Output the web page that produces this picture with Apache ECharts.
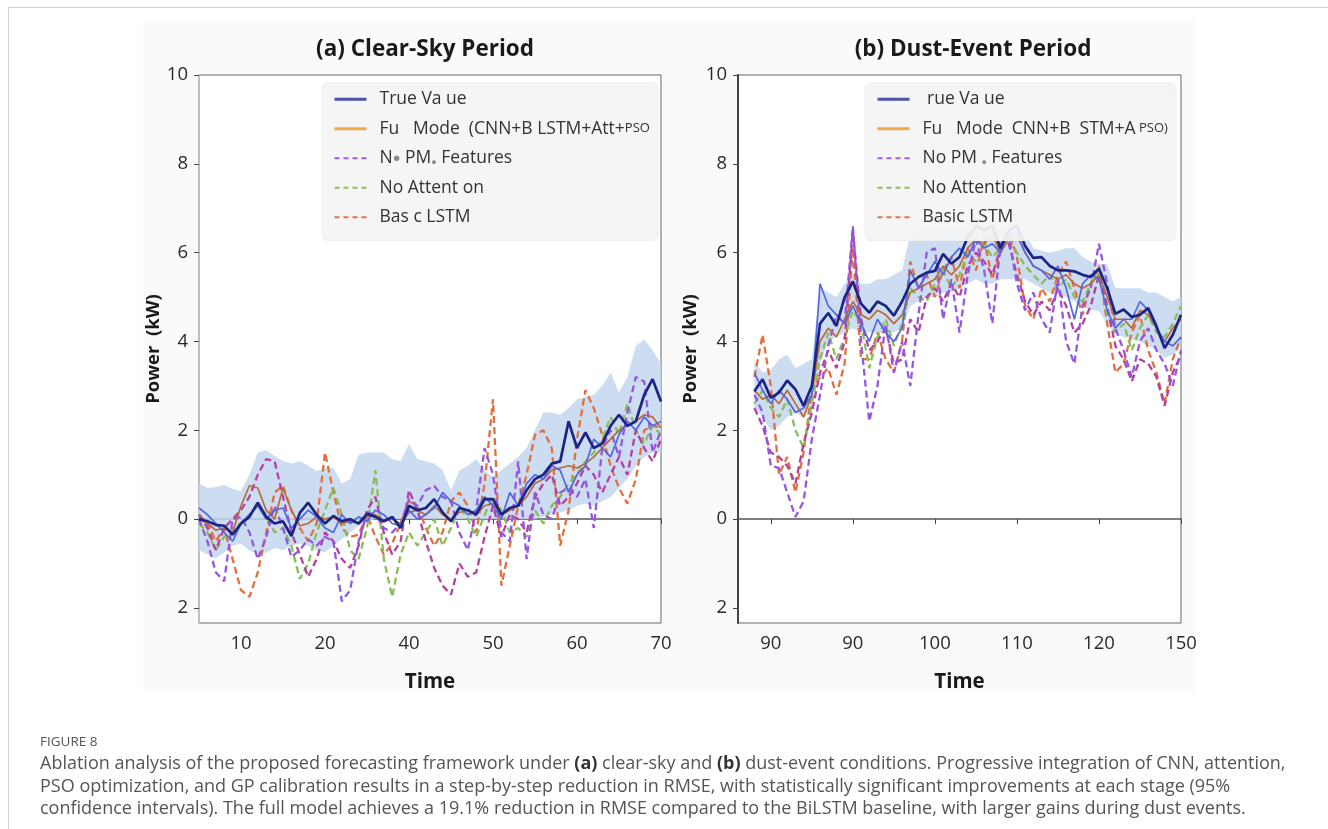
<!DOCTYPE html>
<html>
<head>
<meta charset="utf-8">
<script src="https://cdn.jsdelivr.net/npm/echarts@6/dist/echarts.min.js"></script>
<style>html,body{margin:0;padding:0;background:#fff;}#c{width:1328px;height:829px;}</style>
</head>
<body>
<div id="c"></div>
<script>
// ---------- data ----------
const timeA = [5,6,7,8,9,10,11,12,13,14,15,16,17,18,19,20,21,22,23,24,25,26,27,28,29,30,31,32,33,34,35,36,37,38,39,40,41,42,43,44,45,46,47,48,49,50,51,52,53,54,55,56,57,58,59,60];
const xTickValsA = [10,20,30,40,50,60];
const xTickLabelsA = ['10','20','40','50','60','70'];
const trueA = [0.0,-0.05,-0.13,-0.15,-0.35,-0.1,0.05,0.37,0.05,-0.1,
  -0.05,-0.38,0.14,0.37,0.1,-0.1,0.07,-0.05,0.0,-0.1,
  0.12,0.05,-0.05,0.05,-0.2,0.3,0.2,0.25,0.45,0.15,
  -0.05,0.25,0.2,0.1,0.45,0.45,0.1,0.25,0.3,0.65,
  0.9,1.0,1.25,1.3,2.2,1.6,1.95,1.6,1.7,2.1,
  2.35,2.1,2.2,2.8,3.15,2.65];
const fullA = [0.0,-0.1,-0.25,-0.2,-0.3,0.3,0.75,0.7,0.2,0.0,
  0.7,0.2,-0.15,-0.1,0.05,0.0,0.05,-0.1,-0.05,-0.1,
  0.05,0.1,-0.05,0.0,-0.1,0.15,0.2,0.1,0.3,0.1,
  0.0,0.15,0.2,0.1,0.3,0.35,0.1,0.2,0.3,0.5,
  0.8,0.9,1.1,1.15,1.2,1.15,1.25,1.4,1.6,1.8,
  2.0,2.1,2.2,2.35,2.3,2.05];
const blueA = [0.25,0.1,-0.1,-0.3,-0.5,-0.1,0.1,0.3,0.0,0.2,
  0.25,-0.2,0.0,0.2,0.05,-0.2,-0.3,0.1,-0.1,0.05,
  -0.05,0.2,0.1,-0.1,-0.15,0.2,0.0,0.1,0.25,0.6,
  0.4,0.3,0.1,0.2,0.5,0.3,0.0,0.6,0.3,0.8,
  1.0,0.9,1.2,1.1,0.6,1.0,1.2,1.8,1.6,1.4,
  1.9,2.2,2.0,2.3,2.1,2.2];
const basicA = [0.1,-0.1,-0.5,-0.2,-0.9,-1.6,-1.75,-1.2,-0.3,0.6,
  0.75,0.2,-0.2,-0.5,-0.1,1.5,0.6,-0.2,-0.4,-0.35,
  0.1,-0.4,-0.8,-0.55,-0.1,0.4,0.3,-0.2,-0.6,-0.3,
  0.4,0.6,0.3,-0.3,0.8,2.7,-1.5,-0.6,0.3,1.0,
  1.9,2.0,1.6,-0.6,0.2,1.8,2.9,2.5,1.9,1.2,
  0.7,0.35,0.9,2.0,2.1,2.05];
const pmA = [0.0,-0.5,-1.2,-1.4,0.0,0.05,-0.3,-0.9,-0.4,0.3,
  -0.2,-0.85,-0.7,-0.45,-0.6,-0.4,-0.5,-1.85,-1.6,-0.5,
  0.15,0.1,-0.2,-0.3,-0.1,0.45,0.3,0.65,0.75,0.5,
  0.4,-0.3,-0.7,0.2,1.6,1.0,-0.3,-0.5,1.3,-0.9,
  0.6,0.1,0.0,0.6,0.7,0.5,0.9,-0.2,1.6,2.0,
  1.4,2.4,3.2,3.1,1.5,2.0];
const attA = [-0.1,-0.3,-0.7,-0.4,-0.2,-0.1,0.1,0.3,0.1,-0.3,
  -0.2,-0.6,-1.35,-1.0,-0.3,0.2,0.7,0.1,-0.7,-0.9,
  -0.2,1.1,-0.9,-1.75,-0.8,-0.3,-0.6,-0.3,0.0,-0.6,
  -0.2,0.3,0.0,-0.4,0.1,0.5,0.2,-0.3,-0.2,-0.4,
  0.2,-0.1,0.3,0.5,0.8,1.0,1.3,1.5,1.8,2.3,
  1.9,2.6,2.0,1.7,2.1,1.9];
const magA = [0.1,-0.2,-0.7,-0.2,0.0,0.2,0.5,1.0,1.35,1.3,
  0.5,-0.3,-0.8,-1.3,-0.9,-0.3,-0.5,-0.9,-1.1,-0.6,
  0.2,0.5,-0.3,-0.8,-0.5,0.65,0.2,-0.5,-1.1,-1.5,
  -1.7,-1.0,-1.3,-1.2,-0.4,0.3,-0.4,0.1,0.0,-0.3,
  0.5,0.8,1.0,0.3,0.5,0.8,1.2,1.0,0.6,1.0,
  1.4,1.0,2.0,1.6,1.3,1.8];
const upperA = [0.8,0.7,0.72,0.77,0.68,0.63,1.0,1.5,1.55,1.42,
  1.3,1.25,1.3,1.2,1.08,1.15,1.15,0.8,0.9,1.45,
  1.5,1.5,1.5,1.35,1.3,1.69,1.35,1.3,1.25,1.1,
  0.65,1.1,1.2,1.35,1.1,0.95,1.1,1.25,1.4,1.6,
  2.0,2.4,2.4,2.35,2.5,2.7,2.75,2.8,3.0,3.3,
  2.85,3.2,3.9,4.05,3.8,3.5];
const lowerA = [-0.7,-0.8,-0.88,-0.75,-0.6,-0.55,-0.7,-0.8,-0.75,-0.65,
  -0.7,-0.6,-0.55,-0.6,-0.7,-0.75,-0.6,-0.45,-0.3,-0.15,
  -0.05,0.0,0.0,0.0,0.0,0.0,0.0,0.0,0.0,0.0,
  0.0,0.0,0.0,0.0,0.0,0.0,0.0,0.0,0.0,0.0,
  0.0,0.05,0.1,0.15,0.2,0.3,0.35,0.3,0.4,0.5,
  0.7,0.9,1.2,1.4,1.5,1.5];

const timeB = [88,89,90,91,92,93,94,95,96,97,98,99,100,101,102,103,104,105,106,107,108,109,110,111,112,113,114,115,116,117,118,119,120,121,122,123,124,125,126,127,128,129,130,131,132,133,134,135,136,137,138,139,140];
const xTickValsB = [90,100,110,120,130,140];
const xTickLabelsB = ['90','90','100','110','120','150'];
const trueB = [2.88,3.15,2.73,2.85,3.12,2.92,2.55,3.0,4.4,4.64,
  4.35,5.0,5.35,4.85,4.65,4.9,4.8,4.58,4.9,5.3,
  5.45,5.55,5.59,5.97,5.75,5.9,6.35,6.6,6.5,6.6,
  6.1,6.5,6.6,6.15,5.88,5.9,5.7,5.6,5.6,5.58,
  5.5,5.45,5.64,5.2,4.62,4.72,4.55,4.6,4.75,4.35,
  3.85,4.15,4.6];
const fullB = [2.9,2.7,2.8,2.6,2.9,2.6,2.3,2.8,4.0,4.3,
  4.1,4.5,4.9,4.6,4.5,4.7,4.6,4.4,4.6,5.1,
  5.2,5.3,5.4,5.7,5.5,5.7,6.1,6.3,6.2,6.4,
  6.0,6.3,6.4,6.0,5.7,5.6,5.5,5.4,5.5,5.3,
  5.2,5.3,5.5,5.0,4.5,4.5,4.3,4.7,4.6,4.3,
  4.0,4.3,4.5];
const blueB = [3.3,2.9,2.6,2.9,2.7,2.4,2.5,2.8,5.3,4.8,
  4.6,4.4,4.8,4.4,4.0,4.5,4.2,4.0,4.3,5.6,
  5.2,5.5,5.8,5.5,5.9,6.1,5.9,6.3,6.1,6.2,
  6.0,6.5,6.4,6.0,5.7,5.6,5.4,5.7,5.2,4.5,
  5.3,5.5,5.4,4.7,4.3,4.5,4.5,4.9,4.7,4.3,
  4.0,3.9,4.1];
const basicB = [3.2,4.15,3.0,1.0,1.4,0.6,1.5,2.9,3.2,3.4,
  2.8,3.5,6.1,3.6,3.6,4.2,3.6,3.3,4.0,5.8,
  5.2,5.5,5.0,5.6,5.9,5.2,6.1,5.6,6.3,5.4,
  6.0,6.5,5.9,4.8,4.5,5.2,4.9,5.5,5.8,5.2,
  4.6,5.3,5.7,4.4,3.3,3.5,4.2,4.6,3.8,3.3,
  2.6,3.6,4.1];
const pmB = [2.8,2.4,1.2,1.15,0.6,0.05,0.4,1.8,2.8,3.9,
  4.6,4.4,6.6,4.0,2.2,3.0,4.4,3.3,4.0,3.0,
  4.6,6.0,6.1,4.5,5.4,4.2,5.5,6.3,5.6,4.4,
  6.2,6.4,5.3,4.7,5.1,4.5,4.2,5.4,4.0,3.5,
  4.8,5.2,6.2,5.3,4.3,3.8,3.2,4.0,4.3,3.8,
  3.5,3.0,3.8];
const attB = [2.6,2.9,2.5,2.3,2.7,2.0,1.6,2.6,3.6,4.2,
  3.6,4.1,4.7,4.4,3.4,4.1,4.5,3.9,4.4,5.2,
  5.0,4.9,5.3,5.6,5.2,5.5,6.0,5.8,6.2,5.9,
  6.1,6.3,6.0,5.7,5.5,5.3,5.5,5.2,5.4,5.0,
  4.9,5.3,5.6,4.6,4.2,4.4,3.8,4.3,4.6,4.2,
  4.1,4.4,4.8];
const magB = [2.5,2.1,1.5,1.4,1.2,0.8,1.7,2.4,3.3,3.8,
  3.4,4.0,6.5,4.5,3.8,4.0,4.3,3.5,3.6,4.5,
  4.2,5.0,5.2,4.9,5.3,5.0,5.7,6.0,5.8,5.5,
  6.1,6.2,5.5,4.9,4.6,4.9,4.7,5.2,4.8,4.2,
  4.4,4.8,5.5,4.8,3.9,3.6,3.1,3.6,3.5,3.2,
  2.55,3.3,3.7];
const upperB = [3.55,3.3,3.35,3.6,3.7,3.4,3.5,3.6,5.2,5.1,
  5.0,5.3,5.5,5.3,5.3,5.4,5.4,5.5,5.6,6.4,
  6.5,6.5,6.5,6.5,6.5,6.5,6.5,6.5,6.5,6.5,
  6.5,6.5,6.5,6.5,6.1,6.04,6.0,6.04,6.1,6.1,
  5.9,5.8,5.75,5.74,5.2,5.2,5.2,5.2,5.1,5.1,
  5.0,4.9,5.0];
const lowerB = [2.5,2.3,2.0,2.1,2.3,2.4,2.27,2.5,3.5,4.0,
  4.1,4.2,4.3,4.2,4.2,4.2,4.2,4.2,4.3,4.8,
  4.9,5.0,5.0,5.1,5.1,5.2,5.3,5.4,5.3,5.3,
  5.4,5.4,5.4,5.4,5.3,5.2,5.1,5.07,5.0,4.9,
  4.8,4.7,4.68,4.4,4.17,4.1,4.05,4.0,3.9,3.8,
  3.63,3.7,3.85];

const yTickVals = [-2,0,2,4,6,8,10];
const yTickLabels = ['2','0','2','4','6','8','10'];

const seriesNames = ['True Value','Full Model','No PM Features','No Attention','Basic LSTM'];
const legendLabelsA = ['True Va ue','Fu   Mode  (CNN+B LSTM+Att+{p|PSO}','N{d|\u25CF} PM{s|\u25CF} Features','No Attent on','Bas c LSTM'];
const legendLabelsB = [' rue Va ue','Fu   Mode  CNN+B  STM+A{p| PSO)}','No PM {s|\u25CF} Features','No Attention','Basic LSTM'];

// ---------- chart ----------
const FONT = 'Open Sans';
const chart = echarts.init(document.getElementById('c'), null, {renderer:'canvas'});

function pairs(x, y){ return x.map((t,i)=>[t,y[i]]); }
function line(name, x, y, g, color, width, dashed, z){
  return {type:'line', name, xAxisIndex:g, yAxisIndex:g, data:pairs(x,y), symbol:'none',
    lineStyle:{color, width, type: dashed ? [7,4] : 'solid'}, itemStyle:{color}, z, silent:true, animation:false};
}
function band(key, x, lo, hi, g){
  return {type:'custom', name:key, xAxisIndex:g, yAxisIndex:g, coordinateSystem:'cartesian2d',
    data:[[x[0], lo[0]]], encode:{x:0, y:1}, clip:true, silent:true, z:1,
    renderItem:(params, api)=>{
      const pts = [];
      for (let i=0;i<x.length;i++) pts.push(api.coord([x[i], hi[i]]));
      for (let i=x.length-1;i>=0;i--) pts.push(api.coord([x[i], lo[i]]));
      return {type:'polygon', shape:{points:pts}, style:{fill:'#c3d6ee', opacity:0.85}};
    }};
}

const legendStyle = [
  {lineStyle:{color:'#4a55a8', width:3, type:'solid'}},
  {lineStyle:{color:'#f0a848', width:3, type:'solid'}},
  {lineStyle:{color:'#a05ee0', width:2, type:[5,4]}},
  {lineStyle:{color:'#8cc060', width:2, type:[5,4]}},
  {lineStyle:{color:'#e57048', width:2, type:[5,4]}}
];
const legendData = seriesNames.map((n,i)=>Object.assign({name:n, itemStyle:{opacity:0, color:'rgba(0,0,0,0)', borderWidth:0}}, legendStyle[i]));
const richLeg = {
  d:{color:'#8a8a8a', fontSize:13, fontFamily:FONT},
  s:{color:'#8a8a8a', fontSize:9, fontFamily:FONT, padding:[8,0,0,0]},
  p:{color:'#333', fontSize:13, fontFamily:FONT}
};
function legend(left, labels){
  return {
    data: legendData, orient:'vertical', left, top:83, itemWidth:32, itemHeight:14, itemGap:11,
    backgroundColor:'rgba(244,244,244,0.93)', borderColor:'#ededed', borderWidth:1, borderRadius:6,
    padding:[7,8,14,11], selectedMode:false, z:10,
    textStyle:{fontSize:17.5, color:'#333', fontFamily:FONT, lineHeight:18.5, padding:[0,0,0,8], rich:richLeg},
    formatter: n => labels[seriesNames.indexOf(n)]
  };
}

function yAxis(g, nameGap, axisColor){
  return {type:'value', gridIndex:g, min:-2.34, max:10,
    name:'Power  (kW)', nameLocation:'middle', nameGap, nameRotate:90,
    nameTextStyle:{fontSize:18.5, fontWeight:'bold', color:'#1a1a1a', fontFamily:FONT},
    axisLine:{show:true, lineStyle:{color:axisColor, width:2}},
    axisTick:{show:true, length:5, customValues:yTickVals, lineStyle:{color:'#444'}},
    axisLabel:{customValues:yTickVals, fontSize:18.5, color:'#2a2a2a', fontFamily:FONT, margin:11,
      formatter: v => yTickLabels[yTickVals.indexOf(Math.round(v))]},
    splitLine:{show:false}};
}
function xAxis(g, min, max, vals, labels){
  return {type:'value', gridIndex:g, min, max,
    name:'Time', nameLocation:'middle', nameGap:49,
    nameTextStyle:{fontSize:20.5, fontWeight:'bold', color:'#1a1a1a', fontFamily:FONT},
    axisLine:{show:true, lineStyle:{color:'#555', width:1.6}},
    axisTick:{show:true, length:5, customValues:vals, lineStyle:{color:'#444'}},
    axisLabel:{customValues:vals, fontSize:18.5, color:'#2a2a2a', fontFamily:FONT, margin:11,
      formatter: v => labels[vals.indexOf(Math.round(v))]},
    splitLine:{show:false}};
}

const series = [].concat(
  [band('bandA', timeA, lowerA, upperA, 0)],
  [
    line('Basic LSTM', timeA, basicA, 0, '#e26f3e', 2.3, true, 3),
    line('No Attention', timeA, attA, 0, '#89bd57', 2.3, true, 3),
    line('magA', timeA, magA, 0, '#b4409f', 2.3, true, 3),
    line('No PM Features', timeA, pmA, 0, '#9457e0', 2.3, true, 3),
    line('Full Model', timeA, fullA, 0, '#b86a3a', 1.7, false, 4),
    line('blueA', timeA, blueA, 0, '#5366e8', 1.7, false, 4),
    line('True Value', timeA, trueA, 0, '#1c2583', 2.7, false, 5)
  ],
  [band('bandB', timeB, lowerB, upperB, 1)],
  [
    line('Basic LSTM', timeB, basicB, 1, '#e26f3e', 2.3, true, 3),
    line('No Attention', timeB, attB, 1, '#89bd57', 2.3, true, 3),
    line('magB', timeB, magB, 1, '#b4409f', 2.3, true, 3),
    line('No PM Features', timeB, pmB, 1, '#9457e0', 2.3, true, 3),
    line('Full Model', timeB, fullB, 1, '#b86a3a', 1.7, false, 4),
    line('blueB', timeB, blueB, 1, '#5366e8', 1.7, false, 4),
    line('True Value', timeB, trueB, 1, '#1c2583', 2.7, false, 5)
  ]
);

const capStyle = {fontSize:18, fill:'#555', fontFamily:FONT};
function capLine(y, text){
  return {type:'text', left:40, top:y, z:1, silent:true,
    style:Object.assign({text, rich:{b:{fontWeight:'bold', fontSize:18, fill:'#333', fontFamily:FONT}}}, capStyle)};
}

chart.setOption({
  animation:false,
  backgroundColor:'#ffffff',
  grid:[
    {left:199, top:75, width:462, height:548, show:true, borderColor:'#666', borderWidth:1, backgroundColor:'#ffffff', containLabel:false},
    {left:738, top:75, width:443, height:548, show:true, borderColor:'#666', borderWidth:1, backgroundColor:'#ffffff', containLabel:false}
  ],
  xAxis:[ xAxis(0, 5, 60, xTickValsA, xTickLabelsA), xAxis(1, 86, 140, xTickValsB, xTickLabelsB) ],
  yAxis:[ yAxis(0, 32, '#b9bec8'), yAxis(1, 38, '#444') ],
  legend:[ legend(322, legendLabelsA), legend(865, legendLabelsB) ],
  graphic:[
    {type:'rect', shape:{x:143, y:20, width:1052, height:672}, style:{fill:'#fafafa'}, z:-10, silent:true},
    {type:'line', shape:{x1:8.5, y1:8, x2:8.5, y2:829}, style:{stroke:'#cfcfcf', lineWidth:1}, silent:true},
    {type:'line', shape:{x1:8, y1:7.5, x2:1328, y2:7.5}, style:{stroke:'#cfcfcf', lineWidth:1}, silent:true},
    {type:'text', x:425, y:50, silent:true, style:{text:'(a) Clear-Sky Period', align:'center', verticalAlign:'middle', fontSize:22.5, fontWeight:'bold', fill:'#1a1a1a', fontFamily:FONT}},
    {type:'text', x:973, y:50, silent:true, style:{text:'(b) Dust-Event Period', align:'center', verticalAlign:'middle', fontSize:22.5, fontWeight:'bold', fill:'#1a1a1a', fontFamily:FONT}},
    {type:'text', left:40, top:735, silent:true, style:{text:'FIGURE 8', fontSize:13.5, fill:'#555', fontFamily:FONT}},
    capLine(755, 'Ablation analysis of the proposed forecasting framework under {b|(a)} clear-sky and {b|(b)} dust-event conditions. Progressive integration of CNN, attention,'),
    capLine(778, 'PSO optimization, and GP calibration results in a step-by-step reduction in RMSE, with statistically significant improvements at each stage (95%'),
    capLine(800, 'confidence intervals). The full model achieves a 19.1% reduction in RMSE compared to the BiLSTM baseline, with larger gains during dust events.')
  ],
  series
});
</script>
</body>
</html>
